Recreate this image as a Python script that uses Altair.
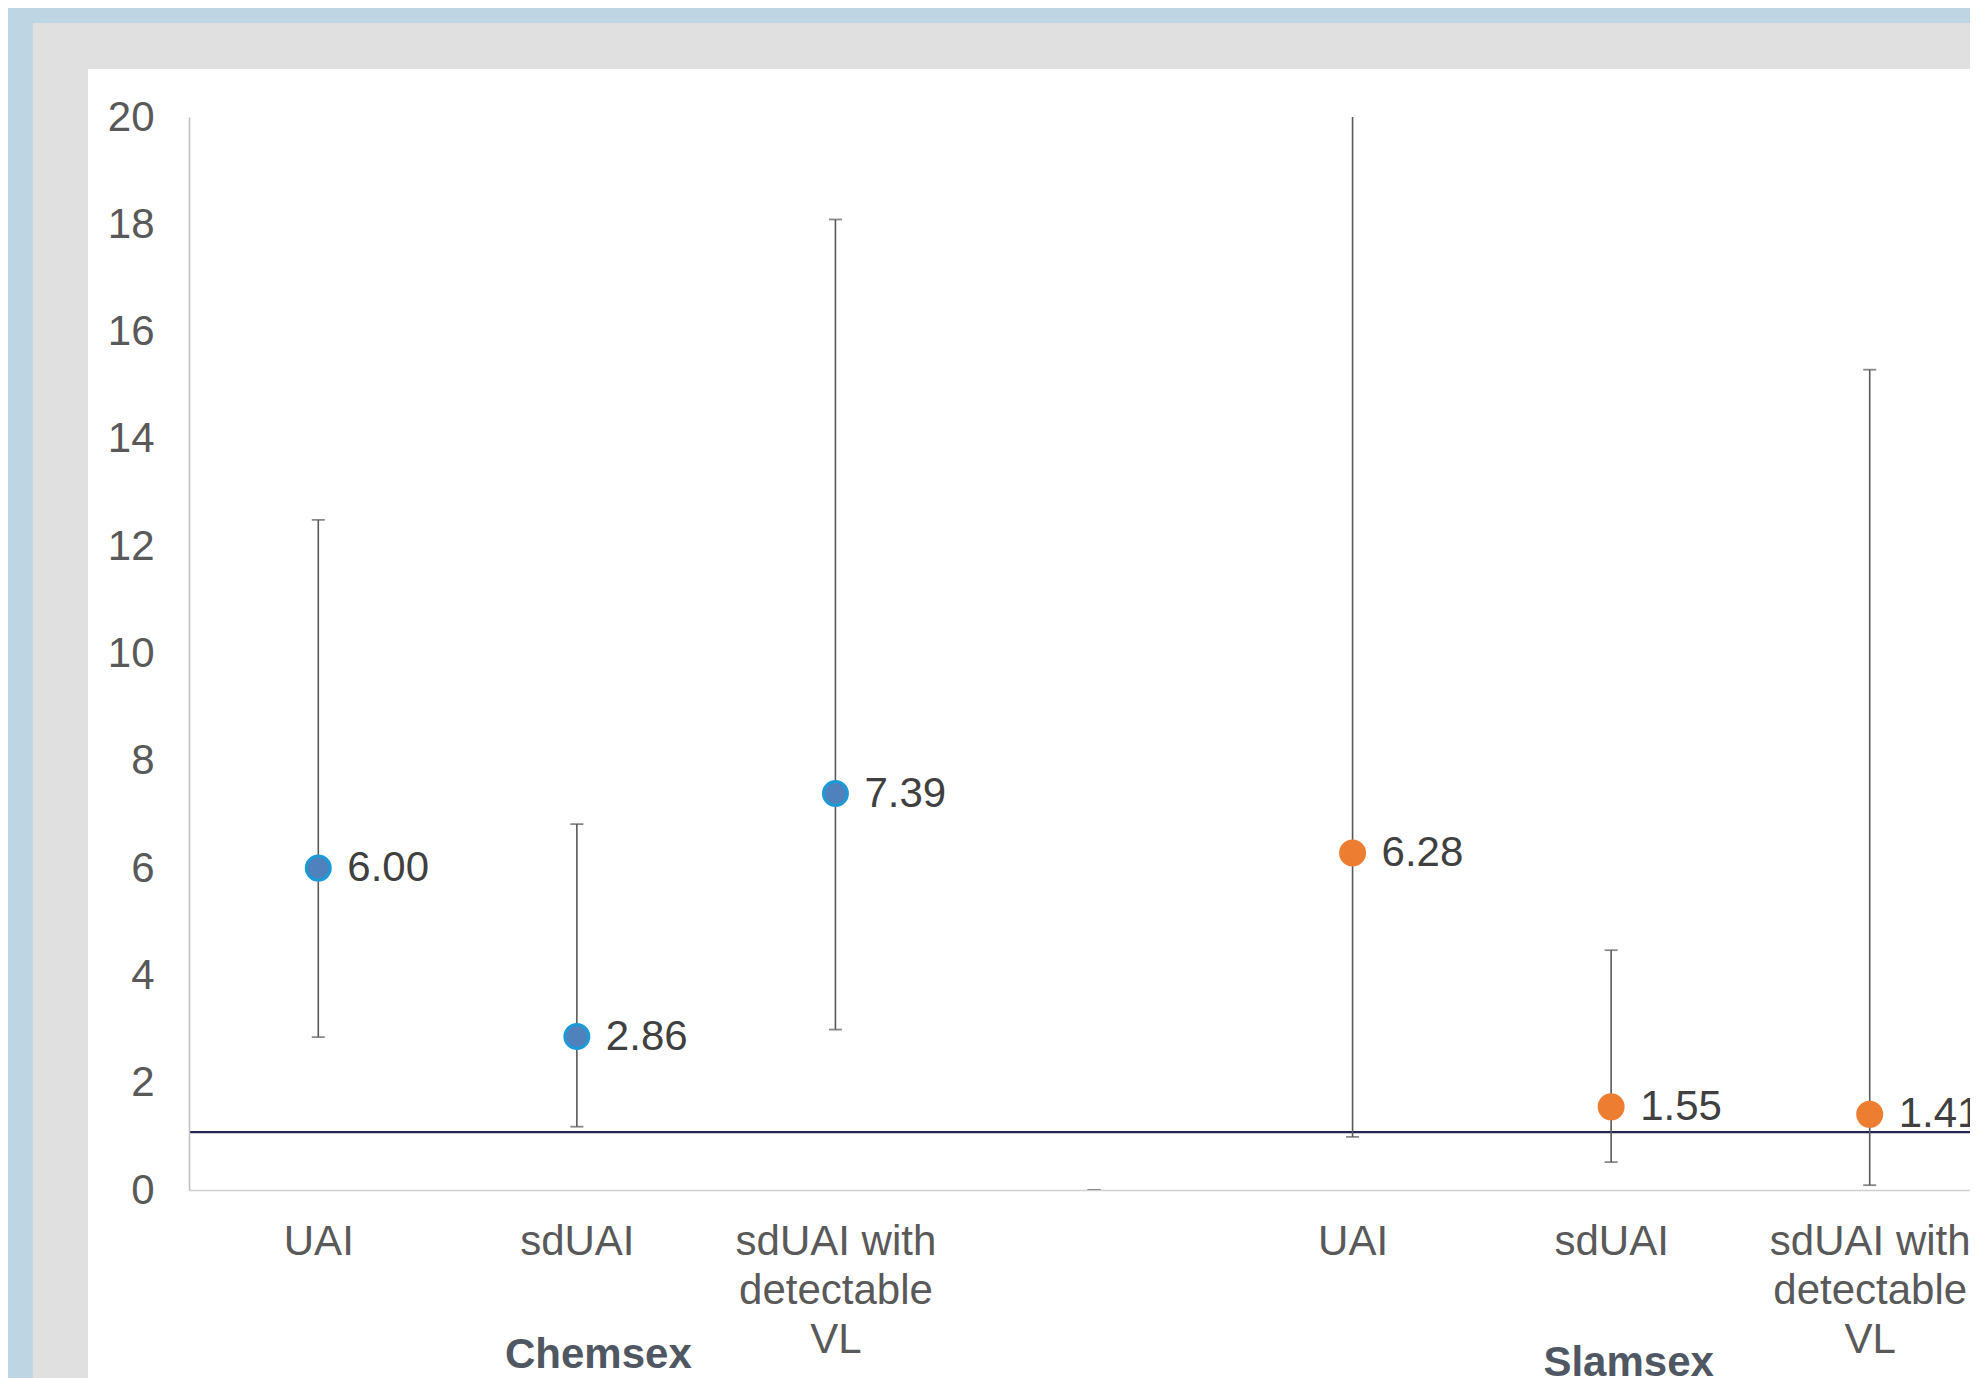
import altair as alt
import pandas as pd

# ---- data ----
groups = ["Chemsex", "Chemsex", "Chemsex", "", "Slamsex", "Slamsex", "Slamsex"]
tick_labels = [
    ["UAI"], ["sdUAI"], ["sdUAI with", "detectable", "VL"],
    [],
    ["UAI"], ["sdUAI"], ["sdUAI with", "detectable", "VL"],
]
estimates = [6.00, 2.86, 7.39, None, 6.28, 1.55, 1.41]
ci_lower = [2.85, 1.18, 2.99, 0.0, 0.99, 0.52, 0.09]
ci_upper = [12.49, 6.82, 18.09, 0.0, 39.0, 4.47, 15.29]
y_ticks = [0, 2, 4, 6, 8, 10, 12, 14, 16, 18, 20]
reference_value = 1.08
group_names = ["Chemsex", "Slamsex"]

# ---- build table ----
keys = [f"{i}|" + "|".join(lines) for i, lines in enumerate(tick_labels)]
df = pd.DataFrame({
    "key": keys,
    "group": groups,
    "estimate": estimates,
    "lower": ci_lower,
    "upper": ci_upper,
})

# middle category of each group carries the group name
group_label_keys = {}
for g in group_names:
    idx = [i for i, gg in enumerate(groups) if gg == g]
    group_label_keys[g] = keys[idx[len(idx) // 2]]
group_expr = "".join(
    f"datum.value == '{k}' ? '{g}' : " for g, k in group_label_keys.items()
) + "''"

FONT = "Liberation Sans"
BLUE_FILL = "#4f81bd"
BLUE_STROKE = "#1d9ad6"
ORANGE = "#ed7d31"

x_scale = alt.Scale(domain=keys, type="point", padding=0.5, range=[0, 1810])

main_axis = alt.Axis(
    title=None, labelExpr="slice(split(datum.value, '|'), 1)", labelAngle=0,
    labelFont=FONT, labelFontSize=42, labelColor="#595959", labelLineHeight=49,
    labelPadding=31, labelLimit=0, labelOverlap=False, labelBound=False,
    ticks=False, tickSize=0, domainColor="#d0d0d0", domainWidth=1.5,
    grid=False, zindex=1,
)
slam_key = group_label_keys["Slamsex"]
group_axis = alt.Axis(
    title=None, orient="bottom", labelExpr=group_expr, labelAngle=0,
    labelFont=FONT, labelFontSize=42, labelFontWeight="bold", labelColor="#4f5762",
    labelPadding={"condition": {"test": f"datum.value == '{slam_key}'", "value": 152}, "value": 144},
    labelOffset={"condition": {"test": f"datum.value == '{slam_key}'", "value": 17}, "value": 21},
    labelLimit=0, labelOverlap=False, labelBound=False,
    domain=False, ticks=False, tickSize=0, grid=False, zindex=1,
)

y_scale = alt.Scale(domain=[0, 20], nice=False, zero=True)
y_axis = alt.Axis(
    values=y_ticks, title=None, grid=False, ticks=False, tickSize=0,
    labelFont=FONT, labelFontSize=42, labelColor="#595959", labelPadding=35,
    domainColor="#bfbfbf", domainWidth=1.5, zindex=1,
)

def X(axis):
    return alt.X("key:N", sort=keys, scale=x_scale, axis=axis)

blank = alt.Data(values=[{}])

# slide frame (decoration)
frame_gray = alt.Chart(blank).mark_rect(color="#e0e0e0").encode(
    x=alt.value(-156), x2=alt.value(1900), y=alt.value(-94), y2=alt.value(1400)
)
frame_white = alt.Chart(blank).mark_rect(color="#ffffff").encode(
    x=alt.value(-101), x2=alt.value(1900), y=alt.value(-48), y2=alt.value(1400)
)

ref_line = alt.Chart(blank).mark_rule(color="#262654", strokeWidth=2.2).encode(
    y=alt.datum(reference_value, scale=y_scale, axis=y_axis)
)

err = alt.Chart(df).mark_rule(color="#595959", strokeWidth=1.6, clip=True).encode(
    x=X(main_axis),
    y=alt.Y("lower:Q", scale=y_scale, axis=y_axis),
    y2="upper:Q",
)

caps = alt.Chart(df).transform_fold(["lower", "upper"], as_=["end", "v"]).mark_tick(
    color="#595959", size=13, thickness=1.8, clip=True
).encode(
    x=X(group_axis),
    y=alt.Y("v:Q", scale=y_scale, axis=y_axis),
)

pts_base = alt.Chart(df).transform_filter("isValid(datum.estimate)")

points = pts_base.mark_circle(size=576, opacity=1, strokeWidth=3).encode(
    x=X(None),
    y=alt.Y("estimate:Q", scale=y_scale, axis=y_axis),
    fill=alt.Fill("group:N", scale=alt.Scale(domain=group_names, range=[BLUE_FILL, ORANGE]), legend=None),
    stroke=alt.Stroke("group:N", scale=alt.Scale(domain=group_names, range=[BLUE_STROKE, ORANGE]), legend=None),
)

labels = pts_base.mark_text(
    align="left", baseline="middle", dx=29, font=FONT, fontSize=42, color="#404040"
).encode(
    x=X(None),
    y=alt.Y("estimate:Q", scale=y_scale, axis=y_axis),
    text=alt.Text("estimate:Q", format=".2f"),
)

chart = alt.layer(
    frame_gray, frame_white, ref_line, err, caps, points, labels
).resolve_axis(x="independent").properties(
    width=1781, height=1073,
    autosize=alt.AutoSizeParams(type="none"),
    padding={"left": 181, "top": 109, "right": 0, "bottom": 188},
    background="#bed5e3",
).configure_view(stroke=None)

chart.save("out.html", embed_options={"renderer": "svg", "actions": False})
